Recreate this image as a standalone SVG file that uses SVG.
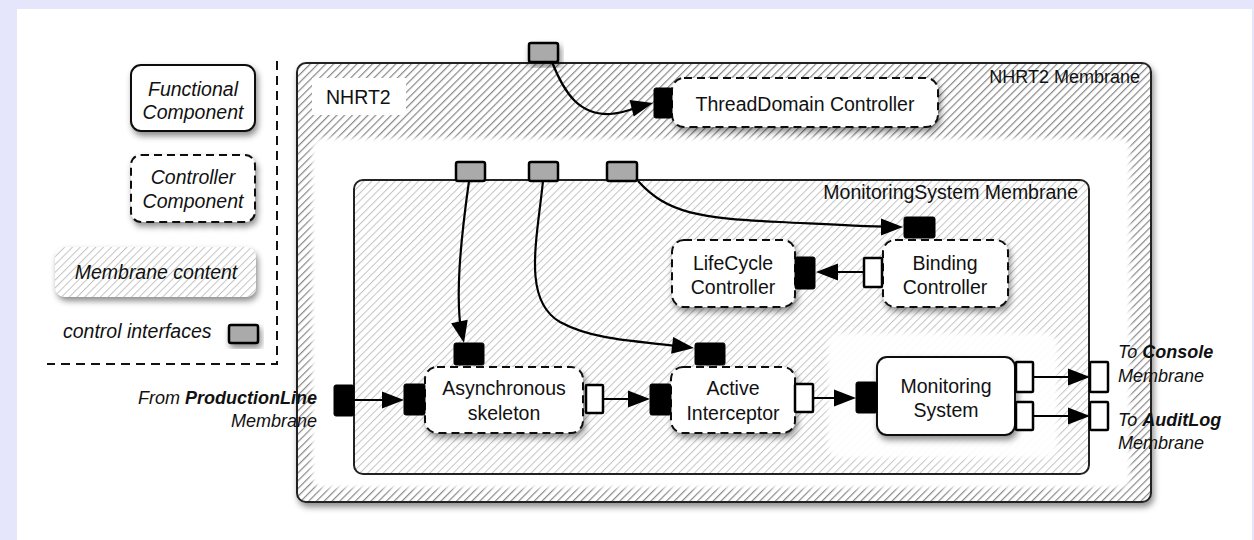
<svg xmlns="http://www.w3.org/2000/svg" xmlns:xlink="http://www.w3.org/1999/xlink" width="1254" height="540" viewBox="0 0 1254 540">
<style>
.t{font-family:"Liberation Sans",Arial,sans-serif;font-size:19.5px;fill:#111}
.i{font-style:italic}
.b{font-weight:bold}
.m{text-anchor:middle}
.e{text-anchor:end}
.sm{font-size:18px}
.fc{fill:#fff;stroke:#111;stroke-width:2}
.cc{fill:#fff;stroke:#111;stroke-width:2;stroke-dasharray:8,5}
.blk{fill:#000;stroke:#000;stroke-width:1}
.gry{fill:#aaa;stroke:#000;stroke-width:2.5}
.wht{fill:#fff;stroke:#000;stroke-width:2.5}
.con{fill:none;stroke:#000;stroke-width:2.2}
</style>
<defs>
<pattern id="h1" patternUnits="userSpaceOnUse" width="5.5" height="5.5" patternTransform="rotate(45)">
<rect width="5.5" height="5.5" fill="#fff"/>
<line x1="0" y1="0" x2="0" y2="5.5" stroke="#888" stroke-width="2.4"/>
</pattern>
<pattern id="h2" patternUnits="userSpaceOnUse" width="5.5" height="5.5" patternTransform="rotate(45)">
<rect width="5.5" height="5.5" fill="#fff"/>
<line x1="0" y1="0" x2="0" y2="5.5" stroke="#c4c4c4" stroke-width="2"/>
</pattern>
<filter id="sh" x="-20%" y="-20%" width="140%" height="150%">
<feDropShadow dx="2" dy="4" stdDeviation="3" flood-color="#000" flood-opacity="0.45"/>
</filter>
<filter id="soft" x="-5%" y="-5%" width="110%" height="110%">
<feGaussianBlur stdDeviation="2"/>
</filter>
<path id="ah" d="M-22,-8.5 L0,0 L-22,8.5 z" fill="#000"/>
</defs>

<rect width="1254" height="540" fill="#e5e5fb"/>
<rect x="17" y="9" width="1235" height="531" fill="#fff"/>

<g id="legend">
<g id="legend-functional">
<rect class="fc" x="131" y="65" width="124" height="66" rx="10" filter="url(#sh)"/>
<text class="t i m" x="193" y="96">Functional</text>
<text class="t i m" x="193" y="119">Component</text>
</g>
<g id="legend-controller">
<rect class="cc" x="131" y="155" width="124" height="67" rx="10" filter="url(#sh)"/>
<text class="t i m" x="193" y="184">Controller</text>
<text class="t i m" x="193" y="208">Component</text>
</g>
<g id="legend-membrane">
<rect x="55" y="247" width="201" height="50" rx="10" fill="url(#h2)" filter="url(#sh)"/>
<text class="t i m" x="156" y="279">Membrane content</text>
</g>
<g id="legend-interfaces">
<text class="t i" x="63" y="338">control interfaces</text>
<rect class="gry" x="229" y="325" width="29" height="18" rx="2" filter="url(#sh)"/>
</g>
<path d="M277,61 V364 H47" fill="none" stroke="#111" stroke-width="2" stroke-dasharray="9,6"/>
</g>

<g id="nhrt2-membrane">
<rect x="297" y="63" width="854" height="439" rx="9" fill="url(#h1)" stroke="#222" stroke-width="2" filter="url(#sh)"/>
<text class="t e sm" x="1140" y="83">NHRT2 Membrane</text>
<rect x="312" y="78" width="94" height="37" fill="#fff"/>
<text class="t" x="326" y="104">NHRT2</text>
</g>

<g id="nhrt2-content">
<rect x="312" y="138" width="818" height="350" rx="10" fill="#fff" filter="url(#soft)"/>
</g>

<g id="ms-membrane">
<rect x="354" y="180" width="735" height="294" rx="9" fill="url(#h2)" stroke="#222" stroke-width="2"/>
<text class="t e" x="1078" y="199">MonitoringSystem Membrane</text>
<rect x="828" y="333" width="229" height="125" rx="12" fill="#fff" opacity="0.95" filter="url(#soft)"/>
</g>

<g id="top-interface">
<rect class="gry" x="529" y="43" width="29" height="19" rx="2" filter="url(#sh)"/>
</g>
<g id="ms-interfaces">
<rect class="gry" x="456" y="162" width="29" height="19" rx="2"/>
<rect class="gry" x="529" y="162" width="29" height="19" rx="2"/>
<rect class="gry" x="607" y="162" width="30" height="19" rx="2"/>
</g>

<g id="threaddomain-controller">
<rect class="cc" x="672" y="78" width="266" height="49" rx="12" filter="url(#sh)"/>
<rect class="blk" x="654" y="88" width="18" height="30" rx="2"/>
<text class="t m" x="805" y="111">ThreadDomain Controller</text>
</g>

<g id="lifecycle-controller">
<rect class="cc" x="672" y="240" width="123" height="67" rx="12" filter="url(#sh)"/>
<rect class="blk" x="795" y="257" width="20" height="32" rx="2"/>
<text class="t m" x="733" y="270">LifeCycle</text>
<text class="t m" x="733" y="294">Controller</text>
</g>

<g id="binding-controller">
<rect class="cc" x="883" y="240" width="125" height="67" rx="12" filter="url(#sh)"/>
<rect class="blk" x="904" y="217" width="31" height="21" rx="2"/>
<rect class="wht" x="864" y="258" width="18" height="29" rx="1"/>
<text class="t m" x="945" y="270">Binding</text>
<text class="t m" x="945" y="294">Controller</text>
</g>

<g id="asynchronous-skeleton">
<rect class="cc" x="425" y="367" width="158" height="66" rx="12" filter="url(#sh)"/>
<rect class="blk" x="404" y="384" width="21" height="31" rx="2"/>
<rect class="blk" x="454" y="343" width="30" height="22" rx="2"/>
<rect class="wht" x="586" y="385" width="17" height="28" rx="1"/>
<text class="t m" x="504" y="395">Asynchronous</text>
<text class="t m" x="504" y="420">skeleton</text>
</g>

<g id="active-interceptor">
<rect class="cc" x="671" y="367" width="124" height="66" rx="12" filter="url(#sh)"/>
<rect class="blk" x="650" y="384" width="21" height="31" rx="2"/>
<rect class="blk" x="695" y="343" width="30" height="22" rx="2"/>
<rect class="wht" x="795" y="384" width="18" height="28" rx="1"/>
<text class="t m" x="733" y="395">Active</text>
<text class="t m" x="733" y="420">Interceptor</text>
</g>

<g id="monitoring-system">
<rect class="fc" x="877" y="357" width="138" height="78" rx="10" filter="url(#sh)"/>
<rect class="blk" x="856" y="382" width="21" height="31" rx="2"/>
<rect class="wht" x="1016" y="362" width="17" height="30" rx="1"/>
<rect class="wht" x="1016" y="402" width="17" height="28" rx="1"/>
<text class="t m" x="946" y="393">Monitoring</text>
<text class="t m" x="946" y="417">System</text>
</g>

<g id="ms-left-interface">
<rect class="blk" x="334" y="385" width="20" height="31" rx="2"/>
<text class="t i sm e" x="317" y="404">From <tspan class="b">ProductionLine</tspan></text>
<text class="t i sm e" x="317" y="427">Membrane</text>
</g>

<g id="ms-right-interfaces">
<rect class="wht" x="1090" y="362" width="18" height="30" rx="1"/>
<rect class="wht" x="1090" y="402" width="18" height="28" rx="1"/>
<text class="t i sm" x="1118" y="358">To <tspan class="b">Console</tspan></text>
<text class="t i sm" x="1118" y="382">Membrane</text>
<text class="t i sm" x="1118" y="426">To <tspan class="b">AuditLog</tspan></text>
<text class="t i sm" x="1118" y="449">Membrane</text>
</g>

<g id="connectors">
<path class="con" d="M552,62 C565,95 580,115 610,114 C625,113 637,107 646,105"/>
<use href="#ah" xlink:href="#ah" transform="translate(653,103) rotate(-14)"/>
<path class="con" d="M469,181 C460,245 455,300 462,336"/>
<use href="#ah" xlink:href="#ah" transform="translate(464,343) rotate(78)"/>
<path class="con" d="M543,181 C537,240 522,300 560,322 C595,341 640,341 686,347"/>
<use href="#ah" xlink:href="#ah" transform="translate(694,348) rotate(7)"/>
<path class="con" d="M638,181 C668,214 700,218 780,222 C840,225 875,227 896,227"/>
<use href="#ah" xlink:href="#ah" transform="translate(903,227)"/>
<path class="con" d="M864,272 H822"/>
<use href="#ah" xlink:href="#ah" transform="translate(816,272) rotate(180)"/>
<path class="con" d="M354,400 H398"/>
<use href="#ah" xlink:href="#ah" transform="translate(404,400)"/>
<path class="con" d="M603,399 H644"/>
<use href="#ah" xlink:href="#ah" transform="translate(650,399)"/>
<path class="con" d="M813,398 H850"/>
<use href="#ah" xlink:href="#ah" transform="translate(856,398)"/>
<path class="con" d="M1033,377 H1084"/>
<use href="#ah" xlink:href="#ah" transform="translate(1090,377)"/>
<path class="con" d="M1033,416 H1084"/>
<use href="#ah" xlink:href="#ah" transform="translate(1090,416)"/>
</g>
</svg>
